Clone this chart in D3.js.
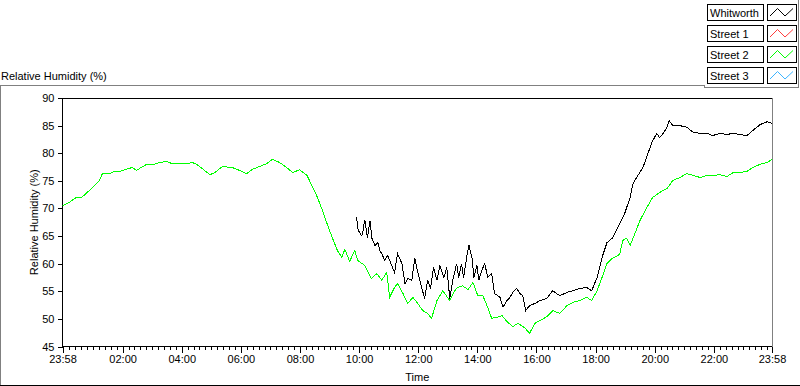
<!DOCTYPE html>
<html>
<head>
<meta charset="utf-8">
<script src="https://cdn.jsdelivr.net/npm/d3@7"></script>
<style>
  body { margin: 0; background: #fff; }
  svg text { font-family: "Liberation Sans", Arial, sans-serif; font-size: 11px; fill: #000; }
</style>
</head>
<body>
<div id="chart"></div>
<script>
// legend entries (only Whitworth and Street 2 have data in this view)
const seriesNames = ["Whitworth", "Street 1", "Street 2", "Street 3"];
const seriesColors = ["#000000", "#ff3c3c", "#00ff00", "#3cb4ff"];

// x tick labels, first/last are the window edges
const xTickLabels = ["23:58", "02:00", "04:00", "06:00", "08:00", "10:00", "12:00",
                     "14:00", "16:00", "18:00", "20:00", "22:00", "23:58"];
const yTickValues = [45, 50, 55, 60, 65, 70, 75, 80, 85, 90];

// minutes after 23:58 (start of window), relative humidity %
const street2Minutes = [0, 14, 28, 39, 55, 75, 81, 95, 106, 116, 132, 142, 150, 171, 187, 197, 211, 223,
  238, 252, 264, 272, 284, 299, 309, 325, 345, 359, 374, 386, 400, 414, 426, 441, 455, 467, 481, 496,
  506, 516, 526, 536, 542, 552, 558, 567, 573, 583, 593, 599, 613, 627, 638, 648, 658, 664, 674, 680,
  691, 701, 711, 721, 731, 741, 749, 760, 772, 786, 796, 802, 812, 823, 833, 843, 853, 863, 871, 883,
  892, 902, 914, 924, 938, 948, 959, 969, 983, 995, 1009, 1024, 1036, 1050, 1064, 1074, 1085, 1095,
  1105, 1115, 1131, 1137, 1145, 1152, 1162, 1172, 1186, 1198, 1212, 1227, 1239, 1253, 1267, 1280,
  1294, 1308, 1320, 1334, 1349, 1361, 1375, 1389, 1401, 1416, 1430, 1440];
const street2RH = [70.5, 71.1, 72.0, 72.0, 73.3, 75.1, 76.3, 76.3, 76.7, 76.7, 77.2, 77.4, 76.9, 78.0,
  78.0, 78.3, 78.5, 78.1, 78.1, 78.1, 78.3, 78.0, 77.2, 76.1, 76.5, 77.6, 77.4, 76.9, 76.3, 77.1, 77.6,
  78.1, 78.9, 78.3, 77.4, 76.5, 77.0, 76.0, 74.2, 72.3, 70.0, 67.5, 66.0, 63.7, 62.4, 61.1, 62.6, 60.4,
  62.4, 60.6, 59.7, 57.3, 58.2, 57.0, 58.4, 53.9, 55.7, 56.4, 54.6, 52.8, 53.9, 52.8, 51.5, 51.0, 50.1,
  53.3, 55.1, 53.3, 55.1, 55.7, 56.0, 55.3, 56.6, 54.2, 54.2, 52.1, 50.1, 50.3, 50.6, 49.5, 48.6, 49.2,
  48.4, 47.4, 49.2, 49.7, 50.4, 51.5, 51.0, 52.4, 53.0, 53.3, 53.9, 53.3, 55.1, 57.5, 60.0, 60.9, 61.7,
  64.2, 64.6, 63.3, 65.5, 67.8, 70.2, 72.0, 72.9, 73.6, 75.1, 75.6, 76.3, 76.0, 75.6, 76.0, 76.0, 76.1,
  75.8, 76.5, 76.5, 76.7, 77.4, 78.0, 78.3, 78.9];

const whitworthMinutes = [597, 599, 603, 607, 609, 613, 615, 617, 619, 624, 628, 634, 640, 644, 648,
  654, 660, 668, 674, 680, 689, 695, 701, 709, 715, 719, 725, 735, 741, 747, 753, 760, 766, 774, 780,
  786, 792, 800, 804, 810, 814, 821, 825, 831, 835, 841, 845, 851, 857, 863, 871, 877, 888, 894, 902,
  908, 914, 922, 928, 934, 940, 948, 959, 969, 983, 995, 1009, 1024, 1036, 1050, 1064, 1074, 1085,
  1095, 1105, 1117, 1131, 1141, 1152, 1158, 1168, 1178, 1188, 1196, 1206, 1212, 1219, 1227, 1231,
  1239, 1253, 1267, 1280, 1294, 1308, 1320, 1334, 1349, 1361, 1375, 1389, 1401, 1416, 1430, 1440];
const whitworthRH = [68.5, 66.4, 65.6, 65.1, 65.4, 67.8, 67.5, 65.6, 64.7, 67.8, 64.6, 63.3, 63.8, 62.4,
  61.8, 60.6, 61.5, 59.7, 58.4, 61.8, 60.0, 56.4, 57.3, 57.0, 61.0, 59.3, 57.0, 53.7, 57.0, 55.5, 59.3,
  57.0, 59.7, 57.5, 59.3, 53.7, 57.0, 60.0, 57.5, 60.0, 57.5, 61.5, 63.3, 61.1, 57.5, 59.7, 57.0, 58.8,
  60.0, 57.5, 58.2, 54.6, 53.9, 52.1, 53.3, 53.9, 54.8, 55.5, 54.6, 54.2, 51.5, 52.4, 52.8, 53.3, 53.7,
  55.1, 54.2, 54.8, 55.1, 55.5, 55.7, 55.1, 57.5, 61.1, 63.8, 64.7, 67.3, 69.1, 72.0, 74.5, 76.0, 77.4,
  79.9, 81.9, 83.6, 82.8, 83.6, 84.7, 85.9, 85.0, 85.0, 84.7, 83.8, 83.6, 83.6, 83.2, 83.6, 83.4, 83.6,
  83.4, 83.2, 84.1, 85.2, 85.7, 85.4];

const width = 800, height = 386;
const plot = {left: 62.5, top: 98, right: 772, bottom: 346.5};

const svg = d3.select("#chart").append("svg")
    .attr("width", width)
    .attr("height", height);

const start = new Date(2000, 0, 1, 23, 58);
const end = d3.timeMinute.offset(start, 1440);
const parseHM = d3.timeParse("%H:%M");
const toDate = m => d3.timeMinute.offset(start, m);

// tick dates: first label is the previous day
const xTickDates = xTickLabels.map((l, i) => {
    if (i === 0) return start;
    if (i === xTickLabels.length - 1) return end;
    let t = parseHM(l);
    return new Date(2000, 0, 2, t.getHours(), t.getMinutes());
});

const x = d3.scaleTime().domain([start, end]).range([plot.left, plot.right]);
const y = d3.scaleLinear().domain([45, 90]).range([plot.bottom, plot.top]);

// outer panel frame
svg.append("line").attr("x1", 0).attr("x2", 704).attr("y1", 85.5).attr("y2", 85.5).attr("stroke", "#808080");
svg.append("line").attr("x1", 0.5).attr("x2", 0.5).attr("y1", 85).attr("y2", 386).attr("stroke", "#808080");
svg.append("line").attr("x1", 0).attr("x2", 800).attr("y1", 385.5).attr("y2", 385.5).attr("stroke", "#000");

svg.append("text").attr("x", 1).attr("y", 80).text("Relative Humidity (%)");

// plot frame
svg.append("line").attr("x1", plot.left).attr("x2", plot.right).attr("y1", plot.top).attr("y2", plot.top)
    .attr("stroke", "#000").attr("shape-rendering", "crispEdges");
svg.append("line").attr("x1", plot.right).attr("x2", plot.right).attr("y1", plot.top).attr("y2", plot.bottom)
    .attr("stroke", "#808080").attr("shape-rendering", "crispEdges");

// minor x ticks every 12 minutes
const minorTicks = d3.timeMinute.every(12).range(new Date(2000, 0, 2, 0, 0), end)
    .filter(d => d.getMinutes() % 60 !== 0 || d.getHours() % 2 !== 0);

svg.append("g")
    .attr("transform", "translate(0," + plot.bottom + ")")
    .call(d3.axisBottom(x).tickValues(minorTicks).tickSize(3).tickFormat(""))
    .call(g => g.select(".domain").remove())
    .attr("shape-rendering", "crispEdges");

const xAxis = svg.append("g")
    .attr("transform", "translate(0," + plot.bottom + ")")
    .call(d3.axisBottom(x).tickValues(xTickDates).tickSize(6).tickPadding(3)
        .tickFormat((d, i) => xTickLabels[i]))
    .attr("shape-rendering", "crispEdges");
xAxis.selectAll("text").style("font-family", "Liberation Sans, Arial, sans-serif").style("font-size", "11px");
xAxis.select(".domain").attr("d", "M" + plot.left + ",0H" + plot.right);

const yAxis = svg.append("g")
    .attr("transform", "translate(" + plot.left + ",0)")
    .call(d3.axisLeft(y).tickValues(yTickValues).tickSize(5).tickPadding(3))
    .attr("shape-rendering", "crispEdges");
yAxis.selectAll("text").style("font-family", "Liberation Sans, Arial, sans-serif").style("font-size", "11px");
yAxis.select(".domain").attr("d", "M0," + plot.top + "V" + plot.bottom);

svg.append("text")
    .attr("x", (plot.left + plot.right) / 2)
    .attr("y", 381)
    .attr("text-anchor", "middle")
    .text("Time");

svg.append("text")
    .attr("transform", "translate(38," + (plot.top + plot.bottom) / 2 + ") rotate(-90)")
    .attr("text-anchor", "middle")
    .text("Relative Humidity (%)");

// data lines
svg.append("clipPath").attr("id", "clip")
    .append("rect").attr("x", plot.left).attr("y", plot.top)
    .attr("width", plot.right - plot.left).attr("height", plot.bottom - plot.top);

const line = d3.line().x(d => x(toDate(d[0]))).y(d => y(d[1]));

const lines = [
    {data: d3.zip(street2Minutes, street2RH), color: seriesColors[2]},
    {data: d3.zip(whitworthMinutes, whitworthRH), color: seriesColors[0]}
];

svg.append("g").attr("clip-path", "url(#clip)")
    .selectAll("path")
    .data(lines)
    .enter().append("path")
    .attr("d", d => line(d.data))
    .attr("fill", "none")
    .attr("stroke", d => d.color)
    .attr("stroke-width", 1)
    .attr("shape-rendering", "crispEdges");

// legend panel
svg.append("line").attr("x1", 704.5).attr("x2", 704.5).attr("y1", 85).attr("y2", 88).attr("stroke", "#808080");
svg.append("line").attr("x1", 704).attr("x2", 799).attr("y1", 87.5).attr("y2", 87.5).attr("stroke", "#808080");
svg.append("line").attr("x1", 798.5).attr("x2", 798.5).attr("y1", 0).attr("y2", 88).attr("stroke", "#808080");

const legend = svg.append("g")
    .selectAll("g")
    .data(seriesNames)
    .enter().append("g")
    .attr("transform", (d, i) => "translate(0," + (4 + i * 21) + ")");

legend.append("rect")
    .attr("x", 707.5).attr("y", 0.5).attr("width", 56).attr("height", 16)
    .attr("fill", "#fff").attr("stroke", "#000");
legend.append("text")
    .attr("x", 710).attr("y", 12.5)
    .text(d => d);

legend.append("rect")
    .attr("x", 767.5).attr("y", 0.5).attr("width", 29).attr("height", 16)
    .attr("fill", "#fff").attr("stroke", "#000");
legend.append("path")
    .attr("d", "M770,12L777.5,4.5L785,12L793,4.5")
    .attr("fill", "none")
    .attr("stroke", (d, i) => seriesColors[i]);
</script>
</body>
</html>
